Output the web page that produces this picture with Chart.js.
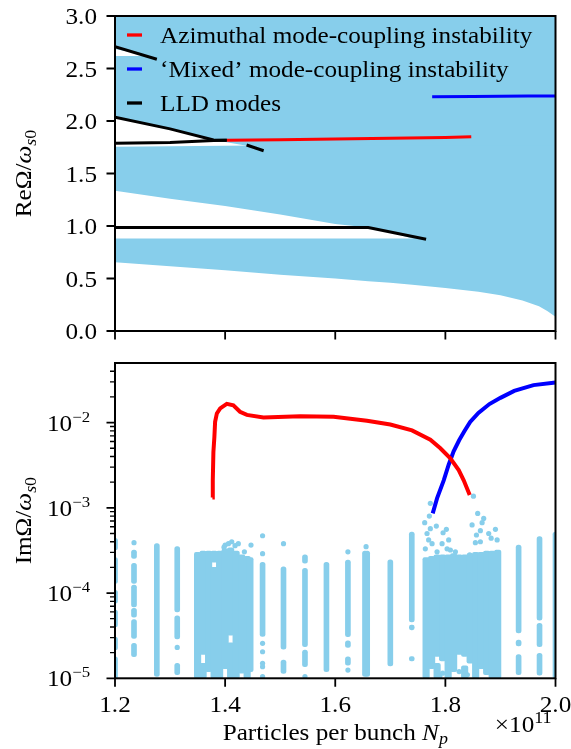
<!DOCTYPE html>
<html>
<head>
<meta charset="utf-8">
<script src="https://cdn.jsdelivr.net/npm/chart.js@4.4.1/dist/chart.umd.min.js"></script>
<style>
  html, body { margin: 0; padding: 0; background: #fff; }
  #wrap { position: relative; width: 571px; height: 749px; }
  canvas { position: absolute; left: 0; }
  #top { top: 0; }
  #bot { top: 345px; }
</style>
</head>
<body>
<div id="wrap">
  <canvas id="top" width="571" height="345"></canvas>
  <canvas id="bot" width="571" height="404"></canvas>
</div>
<script>
// ---- data: top panel (Re Omega / omega_s0) ----
const bandNp  = [1.2, 1.3, 1.4, 1.5, 1.6, 1.66, 1.7, 1.74, 1.8, 1.86, 1.9, 1.94, 1.97, 1.985, 2.0];
const band1Lo = [0.655, 0.616, 0.578, 0.535, 0.50, 0.475, 0.46, 0.44, 0.41, 0.375, 0.34, 0.29, 0.235, 0.19, 0.135];
const band1Hi = [0.88, 0.88, 0.88, 0.88, 0.88, 0.88, 0.88, 0.88, 0.88, 0.88, 0.88, 0.88, 0.88, 0.88, 0.88];
const band2Lo = [1.335, 1.26, 1.19, 1.11, 1.02, 0.985, 0.94, 0.88, 0.82, 0.76, 0.72, 0.68, 0.65, 0.63, 0.62];
const band2Hi = [1.755, 1.76, 1.765, 1.77, 1.77, 1.77, 1.77, 1.77, 1.77, 1.77, 1.77, 1.77, 1.77, 1.77, 1.77];
const band3Lo = [2.035, 1.925, 1.80, 1.71, 1.62, 1.57, 1.54, 1.51, 1.46, 1.42, 1.39, 1.36, 1.33, 1.31, 1.3];
const band3Hi = [2.62, 2.62, 2.62, 2.62, 2.62, 2.62, 2.62, 2.62, 2.62, 2.62, 2.62, 2.62, 2.62, 2.62, 2.62];
const band4Lo = [2.685, 2.58, 2.47, 2.38, 2.3, 2.25, 2.22, 2.19, 2.14, 2.09, 2.06, 2.02, 1.98, 1.96, 1.95];
const band4Hi = [3.0, 3.0, 3.0, 3.0, 3.0, 3.0, 3.0, 3.0, 3.0, 3.0, 3.0, 3.0, 3.0, 3.0, 3.0];

const lld1Np = [1.2, 1.276];                 const lld1Re = [2.708, 2.588];
const lld2Np = [1.2, 1.3, 1.379, 1.403];     const lld2Re = [2.035, 1.925, 1.82, 1.817];
const lld3Np = [1.2, 1.3, 1.379, 1.403];     const lld3Re = [1.787, 1.795, 1.815, 1.817];
const lld4Np = [1.439, 1.47];                const lld4Re = [1.771, 1.717];
const lld5Np = [1.2, 1.66, 1.765];           const lld5Re = [0.985, 0.985, 0.873];

const azReNp = [1.403, 1.5, 1.6, 1.7, 1.8, 1.847];
const azRe   = [1.817, 1.822, 1.828, 1.835, 1.843, 1.85];
const mxReNp = [1.776, 1.85, 1.95, 2.0];
const mxRe   = [2.232, 2.234, 2.237, 2.238];

// ---- data: bottom panel (Im Omega / omega_s0) ----
const azImNp = [1.3769, 1.3776, 1.3787, 1.3805, 1.3818, 1.385, 1.391, 1.403, 1.415, 1.427, 1.4395, 1.4696,
                1.5364, 1.597, 1.6576, 1.70, 1.7394, 1.7727, 1.7909, 1.809, 1.8242, 1.8333, 1.8442];
const azIm   = [1.32e-3, 2.1e-3, 4.5e-3, 6.8e-3, 1.02e-2, 1.28e-2, 1.47e-2, 1.66e-2, 1.59e-2, 1.34e-2, 1.23e-2, 1.15e-2,
                1.19e-2, 1.17e-2, 1.05e-2, 9.5e-3, 8.1e-3, 6.3e-3, 5.0e-3, 3.8e-3, 2.77e-3, 2.1e-3, 1.41e-3];
const mxImNp = [1.777, 1.785, 1.797, 1.806, 1.815, 1.825, 1.835, 1.845, 1.86, 1.88, 1.9, 1.925, 1.96, 2.0];
const mxIm   = [8.6e-4, 1.3e-3, 2.1e-3, 3.2e-3, 4.6e-3, 6.2e-3, 8.0e-3, 1.02e-2, 1.3e-2, 1.65e-2, 1.95e-2, 2.35e-2, 2.75e-2, 2.95e-2];

// LLD continuum points, sparse columns: runs of touching dots [lo, hi]
const colNp = [1.2, 1.2345, 1.276, 1.313, 1.468, 1.506, 1.545, 1.584, 1.623, 1.654, 1.658, 1.70, 1.739, 1.933, 1.971, 2.0];
const colRuns = [
  [[1e-5, 1.78e-5], [2.15e-5, 3.05e-5], [4.0e-5, 6.3e-5], [7.6e-5, 1.08e-4], [1.3e-4, 2.6e-4], [3.2e-4, 4.4e-4]],
  [[1.79e-5, 2.57e-5], [2.94e-5, 4.9e-5], [5.2e-5, 6.6e-5], [6.9e-5, 1.24e-4], [1.3e-4, 2.23e-4], [2.55e-4, 3.19e-4]],
  [[1.05e-5, 3.8e-4]],
  [[1.1e-5, 1.5e-5], [2.9e-5, 5.4e-5], [6e-5, 3.5e-4]],
  [[3.1e-5, 2.3e-4]],
  [[1.14e-5, 1.64e-5], [2.2e-5, 2.03e-4]],
  [[1.37e-5, 2.15e-5], [2.35e-5, 1.95e-4], [2.24e-4, 2.8e-4]],
  [[1.2e-5, 2.3e-4]],
  [[1.43e-5, 1.79e-5], [2.3e-5, 2.75e-5], [3.07e-5, 2.44e-4]],
  [[1.05e-5, 3.1e-4]],
  [[1.05e-5, 3.1e-4]],
  [[1.4e-5, 2.45e-4]],
  [[1.6e-5, 1.8e-5], [3.7e-5, 4.2e-5], [4.6e-5, 5.2e-4]],
  [[1.1e-5, 1.9e-5], [2.4e-5, 2.8e-5], [3.4e-5, 3.66e-4]],
  [[1.09e-5, 1.96e-5], [2.35e-5, 4.4e-5], [4.8e-5, 4.6e-4]],
  [[1e-5, 5.2e-4]]
];
// dense blocks of the continuum
const blockNp = [1.35, 1.36, 1.37, 1.38, 1.39, 1.40, 1.41, 1.42, 1.43, 1.44, 1.445,
                 1.765, 1.775, 1.785, 1.795, 1.805, 1.815, 1.825, 1.835, 1.845, 1.855, 1.865, 1.875, 1.885, 1.895];
const blockRuns = [
  [[1e-5, 3.0e-4]], [[1e-5, 1.5e-5], [1.9e-5, 3.1e-4]], [[1.2e-5, 3.1e-4]], [[1e-5, 2.0e-4], [2.3e-4, 3.1e-4]],
  [[1e-5, 3.1e-4]], [[1.3e-5, 3.3e-4]], [[1e-5, 2.6e-5], [3.2e-5, 3.4e-4]], [[1e-5, 3.1e-4]],
  [[1.15e-5, 2.8e-4]], [[1e-5, 2.7e-4]], [[1.2e-5, 2.6e-4]],
  [[1e-5, 2.6e-4]], [[1.3e-5, 2.7e-4]], [[1e-5, 1.5e-5], [1.8e-5, 2.8e-4]], [[1.6e-5, 2.8e-4]],
  [[1e-5, 2.8e-4]], [[1.2e-5, 2.9e-4]], [[1.9e-5, 2.8e-4]], [[1e-5, 1.4e-5], [1.8e-5, 2.8e-4]],
  [[1.5e-5, 2.9e-4]], [[1e-5, 3.0e-4]], [[1.3e-5, 3.0e-4]], [[1.1e-5, 3.1e-4]], [[1e-5, 3.1e-4]], [[1e-5, 3.2e-4]]
];
// single dots
const dotNp = [1.2345, 1.313, 1.468, 1.468, 1.468, 1.468, 1.468, 1.468, 1.468, 1.506, 1.545, 1.623, 1.623, 1.656,
               1.4, 1.406, 1.412, 1.424, 1.398, 1.447, 1.435, 1.418,
               1.7727, 1.7709, 1.7624, 1.7836, 1.7727, 1.7958, 1.7667, 1.8018, 1.7696, 1.7758, 1.806, 1.7636, 1.8031,
               1.7849, 1.794, 1.8091, 1.8182, 1.8485, 1.8587, 1.8696, 1.8667, 1.8636, 1.8564, 1.8787, 1.8909, 1.8831,
               1.8545, 1.8636, 1.894, 1.8442, 1.851, 1.79, 1.84, 1.825, 1.795];
const dotIm = [3.9e-4, 2.3e-5, 4.7e-4, 2.9e-4, 2.57e-5, 2.05e-5, 1.5e-5, 1.37e-5, 1.05e-5, 3.8e-4, 1.05e-5, 3.05e-4, 1.25e-5, 3.5e-4,
               3.66e-4, 3.8e-4, 4.0e-4, 3.8e-4, 3.45e-4, 3.66e-4, 3.05e-4, 3.6e-4,
               1.13e-3, 8.0e-4, 6.7e-4, 6.1e-4, 5.7e-4, 5.1e-4, 5.0e-4, 5.6e-4, 4.2e-4, 3.8e-4, 4.2e-4, 3.3e-4, 3.3e-4,
               3.05e-4, 3.8e-4, 3.2e-4, 3.05e-4, 6.3e-4, 8.6e-4, 7.5e-4, 6.7e-4, 5.4e-4, 4.8e-4, 5.0e-4, 5.6e-4, 4.4e-4,
               3.9e-4, 4.0e-4, 4.2e-4, 2.8e-4, 1.37e-3, 1.05e-5, 1.1e-5, 1.2e-5, 1.15e-5];

// ---- ticks ----
const xTickVals = [1.2, 1.4, 1.6, 1.8, 2.0];
const xTickLabels = ['1.2', '1.4', '1.6', '1.8', '2.0'];
const reTickVals = [0, 0.5, 1.0, 1.5, 2.0, 2.5, 3.0];
const reTickLabels = ['0.0', '0.5', '1.0', '1.5', '2.0', '2.5', '3.0'];
const imTickVals = [1e-5, 1e-4, 1e-3, 1e-2];
const imTickExps = ['\u22125', '\u22124', '\u22123', '\u22122'];

const SKY = '#87ceeb';
const FONT = '"Liberation Serif", "Times New Roman", serif';
const FS = 22.5, HS = 1.12;
const CLIP = {left: 0, top: 0, right: 0, bottom: 0};

const pts = (xs, ys) => xs.map((x, i) => ({x: x, y: ys[i]}));

function drawRuns(ctx, runs, x, y, align) {
  const fontOf = r => (r.it ? 'italic ' : '') + (r.s || FS) + 'px ' + FONT;
  let w = 0;
  runs.forEach(r => { ctx.font = fontOf(r); w += ctx.measureText(r.t).width * HS; });
  let cx = align === 'center' ? x - w / 2 : align === 'right' ? x - w : x;
  runs.forEach(r => {
    ctx.font = fontOf(r);
    ctx.save();
    ctx.translate(cx, y + (r.dy || 0));
    ctx.scale(HS, 1);
    ctx.fillText(r.t, 0, 0);
    ctx.restore();
    cx += ctx.measureText(r.t).width * HS;
  });
}

function yTitle(ctx, pre, cx, cy) {
  ctx.save();
  ctx.translate(cx, cy);
  ctx.rotate(-Math.PI / 2);
  drawRuns(ctx, [{t: pre}, {t: '\u03A9/'}, {t: '\u03C9', it: true}, {t: 's', it: true, s: 16, dy: 5}, {t: '0', s: 16, dy: 5}], 0, 0, 'center');
  ctx.restore();
}

function framePlugin(opts) {
  return {
    id: 'frame',
    afterDraw(chart) {
      const ctx = chart.ctx, a = chart.chartArea, xs = chart.scales.x, ys = chart.scales.y;
      ctx.save();
      ctx.strokeStyle = '#000';
      ctx.fillStyle = '#000';
      ctx.textAlign = 'left';
      ctx.textBaseline = 'alphabetic';
      ctx.lineWidth = 1.8;
      ctx.beginPath();
      xTickVals.forEach(v => { const p = xs.getPixelForValue(v); ctx.moveTo(p, a.bottom); ctx.lineTo(p, a.bottom + 8.5); });
      opts.yTicks.forEach(v => { const p = ys.getPixelForValue(v); ctx.moveTo(a.left, p); ctx.lineTo(a.left - 8.5, p); });
      ctx.stroke();
      if (opts.minor) {
        ctx.lineWidth = 1.3;
        ctx.beginPath();
        opts.minor.forEach(v => { const p = ys.getPixelForValue(v); ctx.moveTo(a.left, p); ctx.lineTo(a.left - 5, p); });
        ctx.stroke();
      }
      ctx.lineWidth = 2;
      ctx.strokeRect(a.left, a.top, a.right - a.left, a.bottom - a.top);
      opts.draw(ctx, chart, a, xs, ys);
      ctx.restore();
    }
  };
}

function lineSet(xs, ys, color, width) {
  return {type: 'line', data: pts(xs, ys), borderColor: color, borderWidth: width, pointRadius: 0,
          fill: false, tension: 0, order: 0, clip: CLIP};
}
function bandSet(xs, ys, fill) {
  return {type: 'line', data: pts(xs, ys), borderColor: 'rgba(0,0,0,0)', borderWidth: 0, pointRadius: 0,
          backgroundColor: SKY, fill: fill, tension: 0, order: 5, clip: CLIP};
}

// ---- top chart ----
new Chart(document.getElementById('top'), {
  type: 'line',
  data: {
    datasets: [
      bandSet(bandNp, band1Lo, false), bandSet(bandNp, band1Hi, '-1'),
      bandSet(bandNp, band2Lo, false), bandSet(bandNp, band2Hi, '-1'),
      bandSet(bandNp, band3Lo, false), bandSet(bandNp, band3Hi, '-1'),
      bandSet(bandNp, band4Lo, false), bandSet(bandNp, band4Hi, '-1'),
      lineSet(lld1Np, lld1Re, '#000', 3),
      lineSet(lld2Np, lld2Re, '#000', 3),
      lineSet(lld3Np, lld3Re, '#000', 3),
      lineSet(lld4Np, lld4Re, '#000', 3),
      lineSet(lld5Np, lld5Re, '#000', 3),
      lineSet(azReNp, azRe, '#ff0000', 3),
      lineSet(mxReNp, mxRe, '#0000ff', 3)
    ]
  },
  options: {
    responsive: false, animation: false, events: [],
    layout: {padding: {left: 115, right: 15.5, top: 16, bottom: 14}},
    scales: {
      x: {type: 'linear', min: 1.2, max: 2.0, display: false},
      y: {type: 'linear', min: 0, max: 3, display: false}
    },
    plugins: {legend: {display: false}, tooltip: {enabled: false}}
  },
  plugins: [framePlugin({
    yTicks: reTickVals,
    draw(ctx, chart, a, xs, ys) {
      reTickVals.forEach((v, i) => drawRuns(ctx, [{t: reTickLabels[i]}], a.left - 18, ys.getPixelForValue(v) + 8, 'right'));
      yTitle(ctx, 'Re', 31, (a.top + a.bottom) / 2);
      const leg = [['#ff0000', 'Azimuthal mode-coupling instability'],
                   ['#0000ff', '\u2018Mixed\u2019 mode-coupling instability'],
                   ['#000000', 'LLD modes']];
      leg.forEach((l, i) => {
        const y = 35 + i * 34;
        ctx.strokeStyle = l[0];
        ctx.lineWidth = 3.3;
        ctx.beginPath(); ctx.moveTo(127, y); ctx.lineTo(142, y); ctx.stroke();
        drawRuns(ctx, [{t: l[1]}], 160, y + 8, 'left');
      });
    }
  })]
});

// ---- bottom chart ----
const runBars = [];
colNp.forEach((np, i) => colRuns[i].forEach(r => runBars.push({x: np, y: r})));
const blockBars = [];
blockNp.forEach((np, i) => blockRuns[i].forEach(r => blockBars.push({x: np, y: r})));

const minorIm = [];
for (let e = -5; e <= -2; e++) for (let m = 2; m <= 9; m++) if (m * Math.pow(10, e) < 0.05) minorIm.push(m * Math.pow(10, e));

new Chart(document.getElementById('bot'), {
  type: 'scatter',
  data: {
    datasets: [
      {type: 'bar', data: blockBars, backgroundColor: SKY, barThickness: 6.5, borderRadius: 2, borderSkipped: false,
       grouped: false, order: 4, clip: CLIP},
      {type: 'bar', data: runBars, backgroundColor: SKY, barThickness: 5, borderRadius: 2.5, borderSkipped: false,
       grouped: false, order: 3, clip: CLIP},
      {type: 'scatter', data: pts(dotNp, dotIm), backgroundColor: SKY, borderWidth: 0, pointRadius: 2.6,
       order: 2, clip: CLIP},
      lineSet(azImNp, azIm, '#ff0000', 4),
      lineSet(mxImNp, mxIm, '#0000ff', 4)
    ]
  },
  options: {
    responsive: false, animation: false, events: [],
    layout: {padding: {left: 115, right: 15.5, top: 18, bottom: 70.7}},
    scales: {
      x: {type: 'linear', min: 1.2, max: 2.0, offset: false, display: false},
      y: {type: 'logarithmic', min: 1e-5, max: 0.05, display: false}
    },
    plugins: {legend: {display: false}, tooltip: {enabled: false}}
  },
  plugins: [framePlugin({
    yTicks: imTickVals,
    minor: minorIm,
    draw(ctx, chart, a, xs, ys) {
      imTickVals.forEach((v, i) => drawRuns(ctx, [{t: '10'}, {t: imTickExps[i], s: 15, dy: -9}],
                                              47, ys.getPixelForValue(v) + 8, 'left'));
      xTickVals.forEach((v, i) => drawRuns(ctx, [{t: xTickLabels[i]}], xs.getPixelForValue(v), a.bottom + 33.5, 'center'));
      yTitle(ctx, 'Im', 31, (a.top + a.bottom) / 2);
      drawRuns(ctx, [{t: 'Particles per bunch '}, {t: 'N', it: true}, {t: 'p', it: true, s: 16, dy: 4}],
               (a.left + a.right) / 2, a.bottom + 62, 'center');
      drawRuns(ctx, [{t: '\u00D710'}, {t: '11', s: 16, dy: -9}], a.right - 4, a.bottom + 53.5, 'right');
    }
  })]
});
</script>
</body>
</html>
